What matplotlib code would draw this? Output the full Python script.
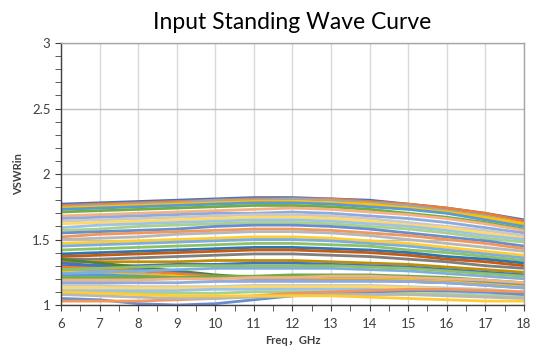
import matplotlib
matplotlib.use("Agg")
import matplotlib.pyplot as plt
from matplotlib.ticker import MultipleLocator

plt.rcParams['font.family'] = ['Lato', 'Noto Sans CJK SC', 'DejaVu Sans']

freq = [6, 7, 8, 9, 10, 11, 12, 13, 14, 15, 16, 17, 18]

# VSWR readings per unit, one value per GHz
vswr_curves = [
    [1.77, 1.78, 1.79, 1.80, 1.81, 1.82, 1.82, 1.81, 1.80, 1.77, 1.74, 1.70, 1.65],
    [1.76, 1.77, 1.78, 1.79, 1.80, 1.81, 1.81, 1.81, 1.79, 1.77, 1.74, 1.70, 1.64],
    [1.75, 1.76, 1.77, 1.78, 1.80, 1.80, 1.81, 1.80, 1.78, 1.76, 1.72, 1.68, 1.62],
    [1.74, 1.75, 1.76, 1.77, 1.78, 1.79, 1.79, 1.78, 1.77, 1.74, 1.71, 1.67, 1.62],
    [1.73, 1.74, 1.75, 1.76, 1.77, 1.78, 1.78, 1.77, 1.75, 1.73, 1.70, 1.65, 1.60],
    [1.71, 1.72, 1.73, 1.74, 1.75, 1.76, 1.76, 1.75, 1.73, 1.70, 1.67, 1.63, 1.58],
    [1.68, 1.69, 1.70, 1.71, 1.72, 1.73, 1.74, 1.73, 1.71, 1.69, 1.66, 1.62, 1.57],
    [1.66, 1.67, 1.68, 1.69, 1.70, 1.70, 1.71, 1.70, 1.68, 1.66, 1.63, 1.59, 1.55],
    [1.64, 1.65, 1.66, 1.67, 1.68, 1.69, 1.69, 1.68, 1.66, 1.63, 1.60, 1.57, 1.53],
    [1.62, 1.63, 1.64, 1.65, 1.66, 1.67, 1.67, 1.66, 1.64, 1.61, 1.59, 1.55, 1.51],
    [1.59, 1.61, 1.62, 1.63, 1.64, 1.65, 1.65, 1.64, 1.62, 1.60, 1.57, 1.53, 1.50],
    [1.57, 1.58, 1.60, 1.61, 1.62, 1.63, 1.63, 1.62, 1.60, 1.58, 1.55, 1.51, 1.48],
    [1.55, 1.56, 1.57, 1.58, 1.60, 1.61, 1.61, 1.60, 1.58, 1.55, 1.52, 1.49, 1.45],
    [1.52, 1.54, 1.55, 1.56, 1.57, 1.58, 1.58, 1.57, 1.55, 1.53, 1.50, 1.47, 1.43],
    [1.50, 1.51, 1.52, 1.54, 1.55, 1.56, 1.56, 1.55, 1.53, 1.50, 1.47, 1.44, 1.41],
    [1.47, 1.48, 1.49, 1.50, 1.51, 1.52, 1.52, 1.51, 1.49, 1.47, 1.44, 1.41, 1.38],
    [1.45, 1.46, 1.47, 1.48, 1.49, 1.50, 1.50, 1.49, 1.47, 1.45, 1.42, 1.39, 1.36],
    [1.42, 1.43, 1.44, 1.45, 1.46, 1.47, 1.47, 1.46, 1.45, 1.42, 1.40, 1.37, 1.34],
    [1.39, 1.40, 1.41, 1.42, 1.43, 1.44, 1.44, 1.43, 1.42, 1.40, 1.37, 1.35, 1.32],
    [1.37, 1.38, 1.39, 1.40, 1.41, 1.42, 1.42, 1.41, 1.40, 1.38, 1.35, 1.33, 1.30],
    [1.35, 1.35, 1.36, 1.37, 1.38, 1.39, 1.39, 1.38, 1.37, 1.35, 1.33, 1.30, 1.28],
    [1.33, 1.33, 1.33, 1.33, 1.34, 1.34, 1.34, 1.33, 1.32, 1.31, 1.29, 1.27, 1.25],
    [1.30, 1.30, 1.30, 1.31, 1.31, 1.32, 1.32, 1.31, 1.30, 1.29, 1.27, 1.25, 1.23],
    [1.35, 1.32, 1.29, 1.26, 1.23, 1.21, 1.20, 1.20, 1.19, 1.19, 1.18, 1.17, 1.15],
    [1.32, 1.30, 1.27, 1.25, 1.22, 1.20, 1.19, 1.19, 1.19, 1.18, 1.17, 1.16, 1.14],
    [1.29, 1.28, 1.26, 1.24, 1.22, 1.21, 1.20, 1.20, 1.20, 1.19, 1.18, 1.16, 1.14],
    [1.27, 1.26, 1.24, 1.22, 1.21, 1.20, 1.19, 1.19, 1.19, 1.18, 1.17, 1.15, 1.13],
    [1.25, 1.24, 1.23, 1.22, 1.21, 1.21, 1.21, 1.21, 1.21, 1.20, 1.19, 1.17, 1.15],
    [1.23, 1.23, 1.22, 1.21, 1.21, 1.21, 1.21, 1.22, 1.22, 1.21, 1.20, 1.18, 1.16],
    [1.21, 1.21, 1.21, 1.21, 1.22, 1.22, 1.23, 1.23, 1.23, 1.22, 1.21, 1.19, 1.17],
    [1.19, 1.19, 1.19, 1.20, 1.20, 1.21, 1.21, 1.22, 1.22, 1.21, 1.20, 1.19, 1.17],
    [1.17, 1.17, 1.17, 1.17, 1.18, 1.18, 1.18, 1.18, 1.18, 1.18, 1.17, 1.15, 1.13],
    [1.15, 1.15, 1.14, 1.14, 1.14, 1.15, 1.15, 1.15, 1.15, 1.14, 1.13, 1.12, 1.10],
    [1.13, 1.13, 1.13, 1.13, 1.13, 1.14, 1.14, 1.14, 1.14, 1.13, 1.12, 1.10, 1.09],
    [1.11, 1.11, 1.11, 1.11, 1.12, 1.12, 1.12, 1.12, 1.12, 1.11, 1.10, 1.09, 1.08],
    [1.09, 1.09, 1.09, 1.09, 1.09, 1.10, 1.10, 1.10, 1.10, 1.09, 1.08, 1.07, 1.06],
    [1.05, 1.04, 1.01, 1.00, 1.01, 1.04, 1.07, 1.09, 1.10, 1.11, 1.11, 1.10, 1.08],
    [1.03, 1.03, 1.03, 1.04, 1.05, 1.07, 1.09, 1.10, 1.11, 1.12, 1.12, 1.11, 1.10],
    [1.08, 1.07, 1.06, 1.05, 1.05, 1.06, 1.07, 1.08, 1.08, 1.08, 1.07, 1.06, 1.05],
    [1.10, 1.09, 1.08, 1.07, 1.07, 1.07, 1.07, 1.07, 1.06, 1.05, 1.04, 1.03, 1.03],
    [1.24, 1.25, 1.26, 1.27, 1.28, 1.28, 1.28, 1.28, 1.27, 1.26, 1.24, 1.22, 1.20],
    [1.27, 1.28, 1.29, 1.30, 1.30, 1.30, 1.30, 1.30, 1.29, 1.28, 1.26, 1.24, 1.22],
]

# office-style palette with darker / lighter variants
colors = ['#4472C4', '#ED7D31', '#A5A5A5', '#FFC000', '#5B9BD5', '#70AD47',
          '#F4B183', '#8FAADC', '#C9C9C9', '#FFD966', '#9DC3E6', '#A9D18E',
          '#698ED0', '#F1975A', '#B7B7B7', '#FFCD33', '#7CAFDD', '#8CC168',
          '#2E75B6', '#C55A11', '#7F7F7F', '#BF9000', '#4472C4', '#548235']

fig = plt.figure(figsize=(5.33, 3.54), dpi=100)
ax = fig.add_axes([0.1144, 0.1384, 0.8686, 0.7401])

for i, curve in enumerate(vswr_curves):
    ax.plot(freq, curve, color=colors[i % len(colors)], lw=2.0, solid_capstyle='butt')

ax.set_xlim(6, 18)
ax.set_ylim(1, 3)
ax.xaxis.set_major_locator(MultipleLocator(1))
ax.xaxis.set_minor_locator(MultipleLocator(0.5))
ax.yaxis.set_major_locator(MultipleLocator(0.5))
ax.yaxis.set_minor_locator(MultipleLocator(0.1))
ax.yaxis.set_major_formatter(plt.FuncFormatter(lambda v, p: '%g' % v))

ax.grid(True, which='major', axis='x', color='#D9D9D9', lw=1.0)
ax.grid(True, which='major', axis='y', color='#BFBFBF', lw=1.0)
ax.set_axisbelow(True)

for s in ['top', 'right']:
    ax.spines[s].set_color('#A6A6A6')
    ax.spines[s].set_linewidth(1.0)
for s in ['left', 'bottom']:
    ax.spines[s].set_color('#404040')
    ax.spines[s].set_linewidth(1.0)

ax.tick_params(which='both', direction='out', color='#404040', labelsize=9.5, labelcolor='#404040')
ax.tick_params(which='major', length=4)
ax.tick_params(which='minor', length=4)
ax.tick_params(axis='x', pad=5)

ax.set_title('Input Standing Wave Curve', fontsize=16.5, pad=10)
ax.set_ylabel('VSWRin', fontsize=8, fontweight='bold', color='#404040', labelpad=6)
ax.set_xlabel('Freq，GHz', fontsize=8, fontweight='bold', color='#404040')

fig.savefig('out.png', dpi=100)
